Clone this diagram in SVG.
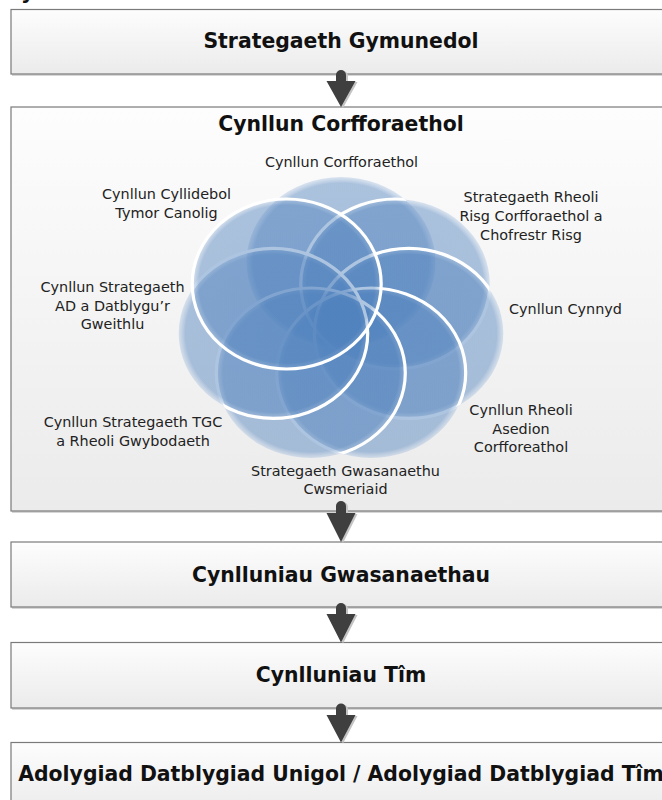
<svg xmlns="http://www.w3.org/2000/svg" width="662" height="800" viewBox="0 0 662 800">
<style>
  .box { fill: url(#boxGrad); stroke: #7a7a7a; stroke-width: 1.2; }
  .shadow { fill: #b4b4b4; opacity: 0.55; }
  .title { font-family: "DejaVu Sans", "Liberation Sans", sans-serif; font-weight: bold; font-size: 20.4px; fill: #111111; text-anchor: middle; }
  .lbl { font-family: "DejaVu Sans", "Liberation Sans", sans-serif; font-size: 14.4px; fill: #222222; text-anchor: middle; }
  .petal { fill: url(#petal); }
  .ring { fill: none; stroke: #ffffff; stroke-width: 3.2; }
  .arrow { fill: #3f3f3f; }
  .arrowShadow { fill: #c4c4c4; }
</style>
<defs>
  <linearGradient id="boxGrad" x1="0" y1="0" x2="0" y2="1">
    <stop offset="0" stop-color="#fdfdfd"/>
    <stop offset="1" stop-color="#ebebeb"/>
  </linearGradient>
  <radialGradient id="petal" cx="0.5" cy="0.5" r="0.5">
    <stop offset="0" stop-color="#4f81bd" stop-opacity="0.47"/>
    <stop offset="0.93" stop-color="#4f81bd" stop-opacity="0.46"/>
    <stop offset="1" stop-color="#8fb0d8" stop-opacity="0.3"/>
  </radialGradient>
  <ellipse id="e0" cx="341" cy="262" rx="94.5" ry="85"/>
  <ellipse id="e1" cx="395.3" cy="284" rx="94.5" ry="85"/>
  <ellipse id="e2" cx="408.8" cy="333.4" rx="94.5" ry="85"/>
  <ellipse id="e3" cx="371.2" cy="373" rx="94.5" ry="85"/>
  <ellipse id="e4" cx="310.8" cy="373" rx="94.5" ry="85"/>
  <ellipse id="e5" cx="273.2" cy="333.4" rx="94.5" ry="85"/>
  <ellipse id="e6" cx="286.7" cy="284" rx="94.5" ry="85"/>
  <clipPath id="k1"><use href="#e0"/><use href="#e2"/><use href="#e3"/><use href="#e4"/><use href="#e5"/><use href="#e6"/></clipPath>
  <clipPath id="k2"><use href="#e0"/><use href="#e1"/><use href="#e3"/><use href="#e4"/><use href="#e5"/><use href="#e6"/></clipPath>
  <clipPath id="k3"><use href="#e0"/><use href="#e1"/><use href="#e2"/><use href="#e4"/><use href="#e5"/><use href="#e6"/></clipPath>
  <clipPath id="k4"><use href="#e0"/><use href="#e1"/><use href="#e2"/><use href="#e3"/><use href="#e5"/><use href="#e6"/></clipPath>
  <clipPath id="k5"><use href="#e0"/><use href="#e1"/><use href="#e2"/><use href="#e3"/><use href="#e4"/><use href="#e6"/></clipPath>
</defs>

<rect x="0" y="0" width="662" height="800" fill="#ffffff"/>
<text x="21" y="-1.5" class="title" style="text-anchor:start">y</text>

<g id="box1">
  <rect class="shadow" x="12" y="11.5" width="660" height="64.5"/>
  <rect class="box" x="11" y="9.5" width="660" height="64.5"/>
  <text class="title" x="341" y="48">Strategaeth Gymunedol</text>
</g>

<g id="box2">
  <rect class="shadow" x="12" y="109" width="660" height="404"/>
  <rect class="box" x="11" y="107" width="660" height="404"/>
  <text class="title" x="341" y="131">Cynllun Corfforaethol</text>
  <g id="flower">
    <use href="#e0" class="petal"/>
    <use href="#e1" class="petal"/>
    <use href="#e1" class="ring" clip-path="url(#k1)"/>
    <use href="#e2" class="petal"/>
    <use href="#e2" class="ring" clip-path="url(#k2)"/>
    <use href="#e3" class="petal"/>
    <use href="#e3" class="ring" clip-path="url(#k3)"/>
    <use href="#e4" class="petal"/>
    <use href="#e4" class="ring" clip-path="url(#k4)"/>
    <use href="#e5" class="petal"/>
    <use href="#e5" class="ring" clip-path="url(#k5)"/>
    <use href="#e6" class="petal"/>
    <use href="#e6" class="ring"/>
  </g>
  <g id="labels">
    <text class="lbl" x="341.5" y="167">Cynllun Corfforaethol</text>
    <text class="lbl" x="531" y="201.5">Strategaeth Rheoli</text>
    <text class="lbl" x="531" y="220.5">Risg Corfforaethol a</text>
    <text class="lbl" x="531" y="239.5">Chofrestr Risg</text>
    <text class="lbl" x="565.5" y="313.5">Cynllun Cynnyd</text>
    <text class="lbl" x="521" y="415">Cynllun Rheoli</text>
    <text class="lbl" x="521" y="433.5">Asedion</text>
    <text class="lbl" x="521" y="452">Corfforeathol</text>
    <text class="lbl" x="345.5" y="476">Strategaeth Gwasanaethu</text>
    <text class="lbl" x="345.5" y="493.5">Cwsmeriaid</text>
    <text class="lbl" x="133" y="427">Cynllun Strategaeth TGC</text>
    <text class="lbl" x="133" y="445.5">a Rheoli Gwybodaeth</text>
    <text class="lbl" x="112.5" y="292">Cynllun Strategaeth</text>
    <text class="lbl" x="112.5" y="310.5">AD a Datblygu’r</text>
    <text class="lbl" x="112.5" y="329">Gweithlu</text>
    <text class="lbl" x="166.5" y="199">Cynllun Cyllidebol</text>
    <text class="lbl" x="166.5" y="218">Tymor Canolig</text>
  </g>
</g>

<g id="box3">
  <rect class="shadow" x="12" y="544" width="660" height="65"/>
  <rect class="box" x="11" y="542" width="660" height="65"/>
  <text class="title" x="341" y="581.5">Cynlluniau Gwasanaethau</text>
</g>

<g id="box4">
  <rect class="shadow" x="12" y="644.5" width="660" height="65.5"/>
  <rect class="box" x="11" y="642.5" width="660" height="65.5"/>
  <text class="title" x="341" y="682">Cynlluniau Tîm</text>
</g>

<g id="box5">
  <rect class="shadow" x="12" y="744.5" width="660" height="70"/>
  <rect class="box" x="11" y="742.5" width="660" height="70"/>
  <text class="title" x="341" y="781">Adolygiad Datblygiad Unigol / Adolygiad Datblygiad Tîm</text>
</g>

<g id="connectors">
  <path class="arrowShadow" d="M338,76 A5,5 0 0 1 348,76 V82 H357.5 L343,108 L328.5,82 H338 Z"/>
  <path class="arrow" d="M336,75 A5,5 0 0 1 346,75 V81 H355.5 L341,107 L326.5,81 H336 Z"/>
  <path class="arrowShadow" d="M338,507 A5,5 0 0 1 348,507 V514 H357.5 L343,543 L328.5,514 H338 Z"/>
  <path class="arrow" d="M336,506 A5,5 0 0 1 346,506 V513 H355.5 L341,542 L326.5,513 H336 Z"/>
  <path class="arrowShadow" d="M338,609 A5,5 0 0 1 348,609 V615 H357.5 L343,643.5 L328.5,615 H338 Z"/>
  <path class="arrow" d="M336,608 A5,5 0 0 1 346,608 V614 H355.5 L341,642.5 L326.5,614 H336 Z"/>
  <path class="arrowShadow" d="M338,709.5 A5,5 0 0 1 348,709.5 V716 H357.5 L343,743.5 L328.5,716 H338 Z"/>
  <path class="arrow" d="M336,708.5 A5,5 0 0 1 346,708.5 V715 H355.5 L341,742.5 L326.5,715 H336 Z"/>
</g>
</svg>
